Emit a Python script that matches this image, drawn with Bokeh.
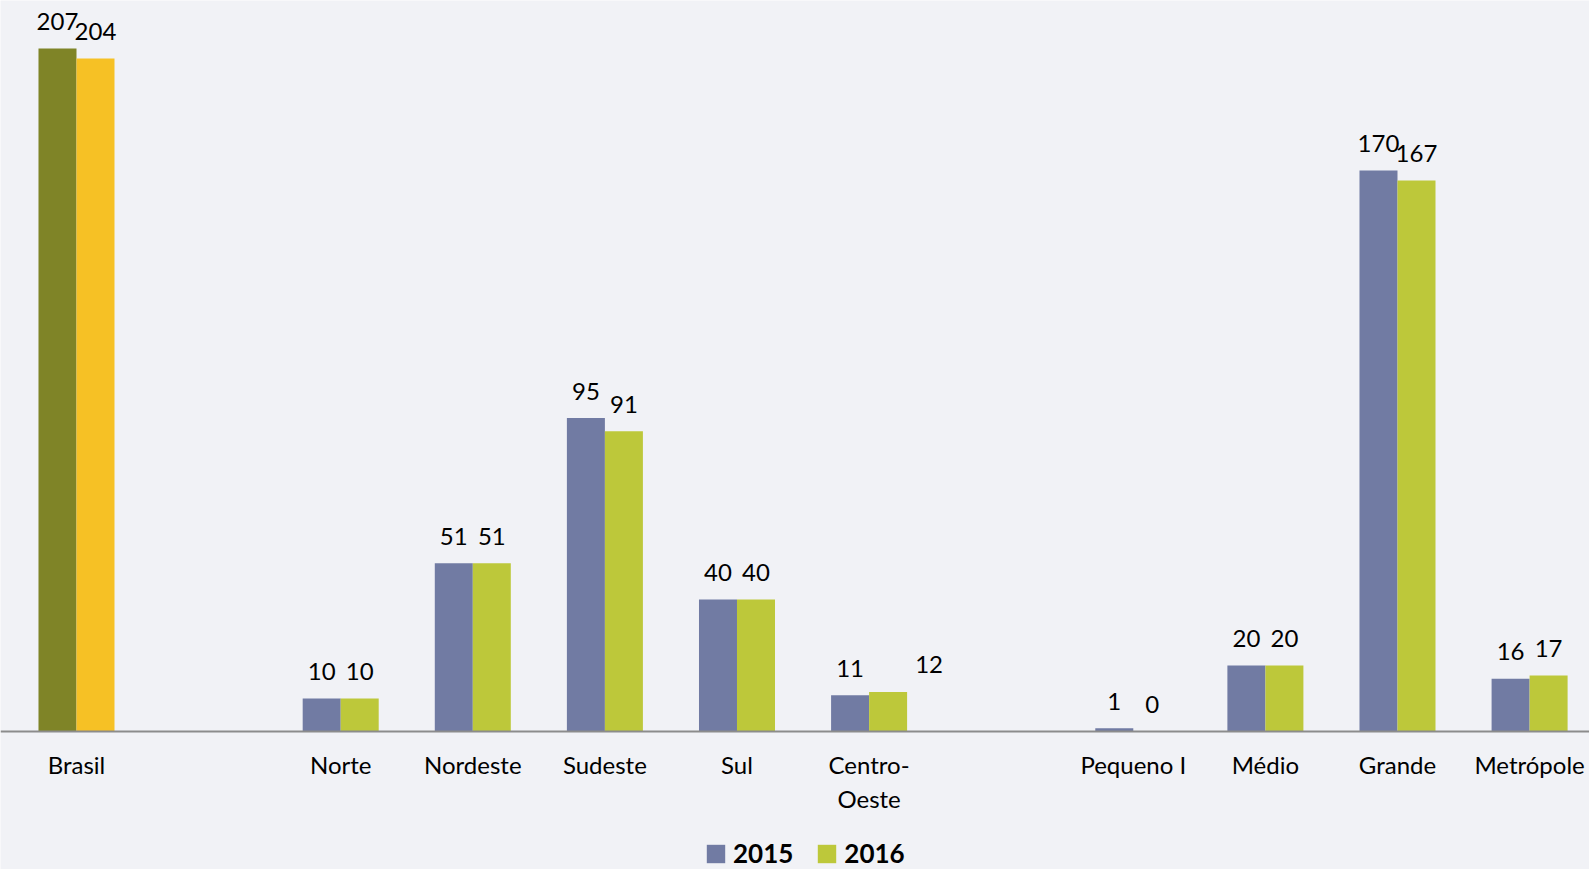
from bokeh.plotting import figure
from bokeh.models import ColumnDataSource, Legend, LegendItem, Range1d, Span
from bokeh.transform import dodge
from bokeh.core.properties import value
from bokeh.embed import file_html
from bokeh.resources import INLINE

# ---- data ----
categories = ["Brasil", "Norte", "Nordeste", "Sudeste", "Sul", "Centro-Oeste",
              "Pequeno I", "Médio", "Grande", "Metrópole"]
groups = [0, 1, 1, 1, 1, 1, 2, 2, 2, 2]
v2015 = [207, 10, 51, 95, 40, 11, 1, 20, 170, 16]
v2016 = [204, 10, 51, 91, 40, 12, 0, 20, 167, 17]
series = ["2015", "2016"]

# ---- styling ----
BLUE, LIME = "#717ba3", "#bdc83a"
OLIVE, GOLD = "#7f8427", "#f6c125"
BG = "#f1f2f6"
FONT = "Lato"
BW = 0.2877

slots = [i + g for i, g in enumerate(groups)]
c2015 = [OLIVE if g == 0 else BLUE for g in groups]
c2016 = [GOLD if g == 0 else LIME for g in groups]
dx2016 = [41 if c == "Centro-Oeste" else 0 for c in categories]
cat_labels = [c.replace("Centro-Oeste", "Centro-\nOeste") for c in categories]

src = ColumnDataSource(dict(x=slots, zero=[0] * len(slots), cat=cat_labels,
                            v2015=v2015, v2016=v2016,
                            c2015=c2015, c2016=c2016,
                            t2015=[str(v) for v in v2015],
                            t2016=[str(v) for v in v2016],
                            dx2016=dx2016))

p = figure(frame_width=1589, frame_height=869,
           x_range=Range1d(-0.5753, 11.4535), y_range=Range1d(-41.82, 221.55),
           output_backend="svg", toolbar_location=None,
           min_border_left=0, min_border_right=0, min_border_top=0,
           min_border_bottom=0, x_axis_location=None, y_axis_location=None,
           background_fill_color=BG, border_fill_color=BG, outline_line_color=None)
p.xgrid.visible = False
p.ygrid.visible = False

r1 = p.vbar(x=dodge("x", -BW / 2), top="v2015", width=BW, source=src,
            fill_color="c2015", line_color=None)
r2 = p.vbar(x=dodge("x", BW / 2), top="v2016", width=BW, source=src,
            fill_color="c2016", line_color=None)

# baseline (category axis line)
p.add_layout(Span(location=0, dimension="width", line_color="#8c8c8c", line_width=2))

# value labels
p.text(x=dodge("x", -BW / 2), y="v2015", text="t2015", source=src,
       text_align="center", text_baseline="alphabetic", y_offset=-27,
       text_font=value(FONT), text_font_size="24px", text_color="black")
p.text(x=dodge("x", BW / 2), y="v2016", text="t2016", source=src,
       x_offset="dx2016",
       text_align="center", text_baseline="alphabetic", y_offset=-27,
       text_font=value(FONT), text_font_size="24px", text_color="black")

# category labels
p.text(x="x", y="zero", text="cat", source=src,
       text_align="center", text_baseline="top", y_offset=18,
       text_font=value(FONT), text_font_size="24px", text_color="black")

legend = Legend(items=[LegendItem(label=series[0], renderers=[r1], index=1),
                       LegendItem(label=series[1], renderers=[r2], index=1)],
                orientation="horizontal", location=(704, 0),
                spacing=22, label_standoff=6, glyph_width=23, glyph_height=23,
                label_text_font=FONT, label_text_font_style="bold",
                label_text_font_size="26px", label_text_color="black",
                padding=0, margin=0, border_line_color=None,
                background_fill_alpha=0)
p.add_layout(legend, "center")

open("out.html", "w").write(file_html(p, INLINE))
